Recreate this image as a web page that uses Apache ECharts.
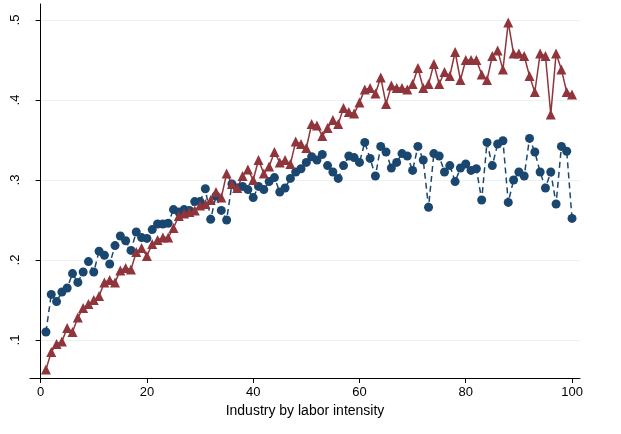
<!DOCTYPE html>
<html lang="en">
<head>
  <meta charset="UTF-8">
  <title>Industry by labor intensity</title>
  <script src="https://cdn.jsdelivr.net/npm/echarts@6/dist/echarts.min.js"></script>
</head>
<body style="margin:0">
  <div id="main" style="width:621px;height:434px;"></div>
  <script>
    var blue = [.11,.157,.148,.16,.165,.183,.172,.185,.198,.185,.211,.206,.195,.218,.23,.224,.212,.235,.228,.227,
      .238,.245,.245,.246,.263,.26,.263,.262,.273,.273,.289,.251,.28,.262,.25,.295,.29,.292,.288,.278,
      .292,.288,.298,.303,.285,.29,.302,.31,.314,.322,.329,.325,.332,.318,.31,.302,.318,.33,.328,.322,
      .347,.327,.305,.342,.335,.315,.322,.333,.33,.312,.342,.325,.266,.333,.33,.31,.318,.298,.315,.32,
      .312,.314,.275,.347,.318,.345,.349,.272,.3,.31,.305,.352,.335,.31,.29,.31,.27,.342,.336,.252]
    var red = [.063,.085,.095,.098,.115,.11,.128,.14,.145,.15,.155,.172,.175,.172,.187,.19,.188,.21,.215,.205,
      .22,.225,.228,.228,.24,.255,.258,.26,.262,.268,.27,.275,.285,.278,.308,.295,.29,.305,.313,.3,
      .325,.308,.317,.335,.322,.325,.32,.348,.345,.34,.37,.368,.355,.365,.375,.37,.39,.385,.383,.397,
      .413,.415,.408,.428,.395,.418,.415,.415,.413,.42,.44,.415,.42,.445,.42,.435,.43,.46,.425,.45,
      .45,.45,.432,.425,.455,.462,.438,.497,.458,.458,.455,.43,.41,.458,.455,.382,.458,.438,.41,.407]
    var xTicks = [0, 20, 40, 60, 80, 100]
    var yTicks = [.1, .2, .3, .4, .5]

    function pairs(arr) { return arr.map(function (v, i) { return [i + 1, v] }) }

    var chart = echarts.init(document.getElementById('main'))
    chart.setOption({
      animation: false,
      grid: { left: 30, right: 41, top: 4, bottom: 56 },
      xAxis: {
        type: 'value', min: -2, max: 101.5,
        name: 'Industry by labor intensity', nameLocation: 'middle', nameGap: 20,
        nameTextStyle: { fontFamily: 'Liberation Sans', fontSize: 14, color: '#000' },
        axisLine: { onZero: false, lineStyle: { color: '#000' } },
        axisTick: { customValues: xTicks, length: 5, lineStyle: { color: '#000' } },
        axisLabel: { customValues: xTicks, color: '#000', fontFamily: 'Liberation Sans', fontSize: 13 },
        splitLine: { show: false }
      },
      yAxis: {
        type: 'value', min: 0.0525, max: 0.52,
        axisLine: { show: true, lineStyle: { color: '#000' } },
        axisTick: { show: true, customValues: yTicks, length: 5, lineStyle: { color: '#000' } },
        axisLabel: { customValues: yTicks, rotate: 90, color: '#000', fontFamily: 'Liberation Sans', fontSize: 13,
          formatter: function (v) { return String(v).replace('0.', '.') } },
        splitLine: { show: true, customValues: yTicks, lineStyle: { color: '#eaf2f3' } }
      },
      series: [
        { type: 'line', data: pairs(blue), symbol: 'circle', symbolSize: 9,
          itemStyle: { color: '#1a476f' }, lineStyle: { color: '#1a476f', width: 1.5, type: [6, 4] } },
        { type: 'line', data: pairs(red), symbol: 'triangle', symbolSize: 10,
          itemStyle: { color: '#90353b' }, lineStyle: { color: '#90353b', width: 1.5 } }
      ]
    })
  </script>
</body>
</html>
